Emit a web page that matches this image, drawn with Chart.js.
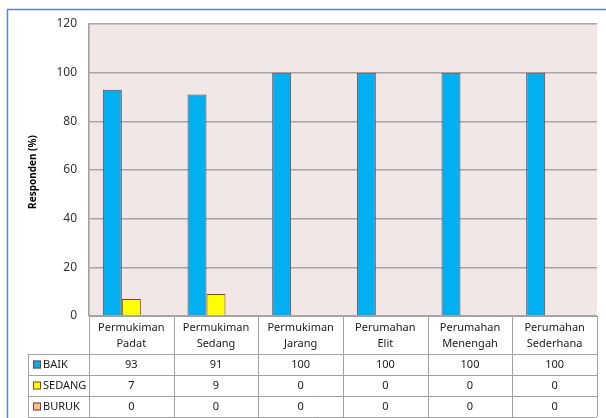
<!DOCTYPE html>
<html>
<head>
<meta charset="utf-8">
<script src="https://cdn.jsdelivr.net/npm/chart.js@4"></script>
<style>
  html, body { margin: 0; padding: 0; background: #fff; }
  #wrap { width: 606px; height: 418px; }
</style>
</head>
<body>
<div id="wrap"><canvas id="myChart" width="606" height="418"></canvas></div>
<script>
// kawasan permukiman / perumahan
const categories = [
  ['Permukiman', 'Padat'],
  ['Permukiman', 'Sedang'],
  ['Permukiman', 'Jarang'],
  ['Perumahan', 'Elit'],
  ['Perumahan', 'Menengah'],
  ['Perumahan', 'Sederhana']
];
const seriesNames = ['BAIK', 'SEDANG', 'BURUK'];
const baik = [93, 91, 100, 100, 100, 100];
const sedang = [7, 9, 0, 0, 0, 0];
const buruk = [0, 0, 0, 0, 0, 0];
const yTicks = [0, 20, 40, 60, 80, 100, 120];

const fillColors = ['#00b0f0', '#ffff00', '#fac090'];
const edgeColor = '#8c3a3a';
const gridColor = '#a2a2a2';
const fontFam = "'Noto Sans', 'Liberation Sans', sans-serif";

// background, frame, axis title and the data table underneath
const tablePlugin = {
  id: 'tablePlugin',
  beforeDraw(chart) {
    const c = chart.ctx, a = chart.chartArea;
    c.save();
    c.fillStyle = '#f2e7e7';
    c.fillRect(a.left, a.top, a.right - a.left, a.bottom - a.top);
    c.restore();
  },
  afterDraw(chart) {
    const c = chart.ctx, a = chart.chartArea, x = chart.scales.x;
    const sets = chart.data.datasets;
    c.save();

    // outer frame
    c.strokeStyle = '#5b86c5';
    c.lineWidth = 1.5;
    c.beginPath();
    c.moveTo(7.5, 418);
    c.lineTo(7.5, 9.5);
    c.lineTo(606, 9.5);
    c.stroke();

    // y axis title
    c.fillStyle = '#000';
    c.font = "bold 10px " + fontFam;
    c.textAlign = 'center';
    c.textBaseline = 'middle';
    c.translate(33, 172);
    c.rotate(-Math.PI / 2);
    c.fillText('Responden (%)', 0, 0);
    c.setTransform(1, 0, 0, 1, 0, 0);

    // table grid
    const n = categories.length;
    const step = (a.right - a.left) / n;
    const rowTops = [a.bottom, 354, 375, 396, 417];
    const legLeft = 28;
    c.strokeStyle = gridColor;
    c.lineWidth = 1;
    c.beginPath();
    for (let i = 0; i <= n; i++) {
      const vx = Math.round(a.left + i * step) + 0.5;
      c.moveTo(vx, a.bottom);
      c.lineTo(vx, rowTops[4]);
    }
    c.moveTo(legLeft + 0.5, rowTops[1]);
    c.lineTo(legLeft + 0.5, rowTops[4]);
    for (let r = 1; r < rowTops.length; r++) {
      c.moveTo(legLeft, rowTops[r] + 0.5);
      c.lineTo(a.right, rowTops[r] + 0.5);
    }
    c.moveTo(a.left, a.bottom + 0.5);
    c.lineTo(a.right, a.bottom + 0.5);
    c.stroke();

    // header: category names
    c.fillStyle = '#1a1a1a';
    c.font = "11px " + fontFam;
    c.textAlign = 'center';
    c.textBaseline = 'middle';
    categories.forEach((lab, i) => {
      const cx = x.getPixelForValue(i);
      c.fillText(lab[0], cx, 328);
      c.fillText(lab[1], cx, 344);
    });

    // rows: legend key + values
    sets.forEach((ds, r) => {
      const cy = (rowTops[r + 1] + rowTops[r + 2]) / 2;
      c.fillStyle = ds.backgroundColor;
      c.fillRect(33, cy - 4, 8, 8);
      c.strokeStyle = edgeColor;
      c.strokeRect(33.5, cy - 3.5, 7, 7);
      c.fillStyle = '#1a1a1a';
      c.textAlign = 'left';
      c.fillText(ds.label, 43, cy);
      c.textAlign = 'center';
      ds.data.forEach((v, i) => {
        c.fillText(String(v), x.getPixelForValue(i), cy);
      });
    });
    c.restore();
  }
};

const chart = new Chart(document.getElementById('myChart'), {
  type: 'bar',
  data: {
    labels: categories,
    datasets: [baik, sedang, buruk].map((d, i) => ({
      label: seriesNames[i],
      data: d,
      backgroundColor: fillColors[i],
      borderColor: edgeColor,
      borderWidth: ctx => (ctx.raw ? 1 : 0),
      borderSkipped: 'bottom',
      categoryPercentage: 0.673,
      barPercentage: 1
    }))
  },
  options: {
    responsive: false,
    animation: false,
    layout: { padding: { left: 0, right: 9, top: 24, bottom: 102 } },
    plugins: {
      legend: { display: false },
      tooltip: { enabled: false }
    },
    scales: {
      x: { display: false },
      y: {
        min: 0,
        max: 120,
        afterBuildTicks: axis => { axis.ticks = yTicks.map(v => ({ value: v })); },
        afterFit: axis => { axis.width = 89; },
        grid: { color: '#a6a6a6', lineWidth: 1.6, drawTicks: false },
        border: { color: gridColor, width: 1.6 },
        ticks: {
          padding: 12,
          color: '#333333',
          font: { family: fontFam, size: 12 }
        }
      }
    }
  },
  plugins: [tablePlugin]
});
</script>
</body>
</html>
